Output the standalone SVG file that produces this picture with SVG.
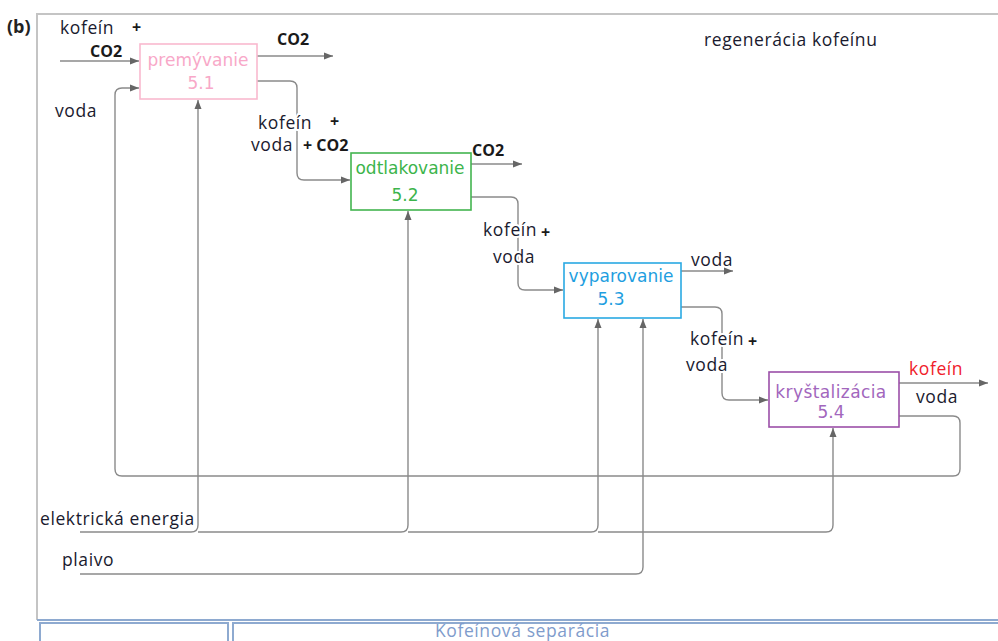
<svg xmlns="http://www.w3.org/2000/svg" width="998" height="641" viewBox="0 0 998 641">
<defs>
<marker id="ah" markerWidth="10" markerHeight="8" refX="9" refY="4" orient="auto" markerUnits="userSpaceOnUse">
<path d="M0,0.5 L9,4 L0,7.5 Z" fill="#666"/>
</marker>
<style>
.frame{fill:none;stroke:#c4c4c4;stroke-width:2}
.tab{fill:#fff;stroke:#8eaad0;stroke-width:2}
.c{fill:none;stroke:#8a8a8a;stroke-width:1.4}
.a{marker-end:url(#ah)}
.box{fill:#fff;stroke-width:1.6}
.bt{font-family:"DejaVu Sans",Verdana,sans-serif;font-size:17px}
.lb{font-family:"Open Sans","Noto Sans",sans-serif;font-size:17.5px;letter-spacing:0.6px;fill:#1a1a2e}
.bd{font-family:"Open Sans","Noto Sans",sans-serif;font-size:16px;font-weight:bold;fill:#1a1a1a}
.halo{paint-order:stroke;stroke:#fff;stroke-width:4px;stroke-linejoin:round}
</style>
</defs>
<rect width="998" height="641" fill="#fff"/>
<g id="frame">
<path class="frame" d="M37,620 V14 H998"/>
<line x1="37" y1="620" x2="998" y2="620" stroke="#8eaad0" stroke-width="2"/>
<rect class="tab" x="40" y="623" width="188" height="30"/>
<rect class="tab" x="233" y="623" width="775" height="30"/>
<text x="435" y="637" style="font-family:'Open Sans','Noto Sans',sans-serif;font-size:17.5px;letter-spacing:0.6px;fill:#7f9ccc">Kofeínová separácia</text>
<text x="7" y="33" style="font-family:'Open Sans','Noto Sans',sans-serif;font-size:18px;font-weight:bold;fill:#222">(b)</text>
<text class="lb" x="704" y="46">regenerácia kofeínu</text>
</g>
<g id="connectors">
<path class="c a" d="M60,61 H139"/>
<path class="c a" d="M257,56 H333"/>
<path class="c a" d="M257,81 H290 Q297,81 297,88 V173 Q297,180 304,180 H350"/>
<path class="c a" d="M471,164 H522"/>
<path class="c a" d="M471,197 H511 Q518,197 518,204 V283 Q518,290 525,290 H563"/>
<path class="c a" d="M681,271 H733"/>
<path class="c a" d="M681,307 H715 Q722,307 722,314 V393 Q722,400 729,400 H768"/>
<path class="c a" d="M899,383 H988"/>
<path class="c a" d="M899,416 H953 Q960,416 960,423 V469 Q960,476 953,476 H122 Q115,476 115,469 V95 Q115,88 122,88 H139"/>
<path class="c a" d="M80,532 H191 Q198,532 198,525 V100"/>
<path class="c a" d="M198,532 H401 Q408,532 408,525 V211"/>
<path class="c a" d="M408,532 H591 Q598,532 598,525 V319"/>
<path class="c a" d="M598,532 H826 Q833,532 833,525 V428"/>
<path class="c a" d="M80,574 H636 Q643,574 643,567 V319"/>
</g>
<g id="n51">
<rect class="box" x="140" y="44" width="117" height="55" stroke="#f9b9cf"/>
<text class="bt" x="198" y="66" text-anchor="middle" fill="#f8a8c8">premývanie</text>
<text class="bt" x="201" y="89" text-anchor="middle" fill="#f8a8c8">5.1</text>
</g>
<g id="n52">
<rect class="box" x="351" y="153" width="120" height="57" stroke="#43b54f"/>
<text class="bt" x="410" y="174" text-anchor="middle" fill="#3cb44b">odtlakovanie</text>
<text class="bt" x="405" y="201" text-anchor="middle" fill="#3cb44b">5.2</text>
</g>
<g id="n53">
<rect class="box" x="564" y="263" width="117" height="55" stroke="#2aa9e3"/>
<text class="bt" x="621" y="282" text-anchor="middle" fill="#1e9ee0">vyparovanie</text>
<text class="bt" x="611" y="305" text-anchor="middle" fill="#1e9ee0">5.3</text>
</g>
<g id="n54">
<rect class="box" x="769" y="372" width="130" height="55" stroke="#9b4fa8"/>
<text class="bt" x="831" y="398" text-anchor="middle" fill="#a266bd" letter-spacing="0.4">kryštalizácia</text>
<text class="bt" x="831" y="418" text-anchor="middle" fill="#a266bd">5.4</text>
</g>
<g id="labels">
<text class="lb" x="60" y="34">kofeín</text>
<text class="bd" x="132" y="33">+</text>
<text class="bd" x="90" y="57">CO2</text>
<text class="bd" x="277" y="45">CO2</text>
<text class="lb" x="55" y="117">voda</text>
<text class="lb halo" x="258" y="129">kofeín</text>
<text class="bd" x="330" y="127">+</text>
<text class="lb halo" x="251" y="151">voda</text>
<text class="bd halo" x="303" y="151">+ CO2</text>
<text class="bd" x="472" y="156">CO2</text>
<text class="lb halo" x="483" y="236">kofeín</text>
<text class="bd" x="541" y="238">+</text>
<text class="lb halo" x="493" y="263">voda</text>
<text class="lb" x="691" y="266">voda</text>
<text class="lb halo" x="690" y="345">kofeín</text>
<text class="bd" x="748" y="347">+</text>
<text class="lb halo" x="686" y="371">voda</text>
<text class="lb" x="909" y="375" style="fill:#f0202a">kofeín</text>
<text class="lb" x="916" y="403">voda</text>
<text class="lb halo" x="40" y="525">elektrická energia</text>
<text class="lb halo" x="62" y="566">plaivo</text>
</g>
</svg>
